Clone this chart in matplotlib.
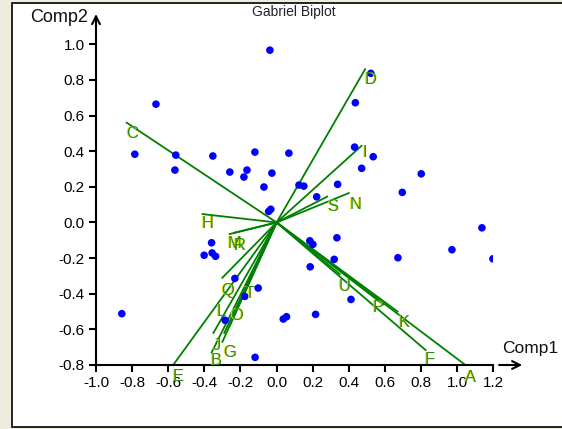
import matplotlib
matplotlib.use("Agg")
import matplotlib.pyplot as plt
from matplotlib.patches import Rectangle
import matplotlib.transforms as mtrans

plt.rcParams['font.family'] = ['Liberation Sans', 'DejaVu Sans']

# ---- data ----
point_x = [-0.037, -0.668, -0.785, -0.558, -0.563, -0.353, -0.259, -0.164, -0.181, -0.120,
           -0.026, -0.070, 0.068, -0.044, -0.032, 0.124, 0.151, 0.222, 0.338, 0.436,
           0.522, 0.432, 0.535, 0.471, 0.696, 0.801, 0.184, 0.201, 0.334, 0.319,
           0.186, 0.672, 0.971, 1.137, 1.198, 0.412, 0.216, 0.037, 0.055, -0.360,
           -0.357, -0.401, -0.338, -0.231, -0.102, -0.176, -0.285, -0.857, -0.119]
point_y = [0.967, 0.664, 0.383, 0.378, 0.294, 0.373, 0.283, 0.294, 0.255, 0.395,
           0.277, 0.199, 0.389, 0.062, 0.074, 0.210, 0.204, 0.144, 0.214, 0.672,
           0.837, 0.423, 0.369, 0.304, 0.169, 0.273, -0.103, -0.123, -0.086, -0.207,
           -0.249, -0.198, -0.153, -0.030, -0.204, -0.432, -0.516, -0.542, -0.529, -0.114,
           -0.171, -0.184, -0.190, -0.314, -0.368, -0.415, -0.549, -0.512, -0.757]

var_names = ['C', 'D', 'I', 'S', 'N', 'H', 'M', 'R', 'Q', 'T', 'L', 'O', 'J', 'G', 'B', 'E',
             'U', 'P', 'K', 'F', 'A']
var_x = [-0.83, 0.49, 0.47, 0.28, 0.40, -0.41, -0.26, -0.235, -0.30, -0.17, -0.29, -0.26,
         -0.35, -0.30, -0.36, -0.569, 0.35, 0.59, 0.67, 0.825, 1.039]
var_y = [0.56, 0.86, 0.43, 0.145, 0.165, 0.047, -0.065, -0.058, -0.31, -0.35, -0.62, -0.58,
         -0.62, -0.67, -0.73, -0.795, -0.29, -0.46, -0.50, -0.716, -0.795]
label_x = [-0.80, 0.52, 0.49, 0.31, 0.44, -0.38, -0.235, -0.205, -0.27, -0.15, -0.305, -0.22,
           -0.333, -0.26, -0.333, -0.546, 0.38, 0.56, 0.705, 0.85, 1.075]
label_y = [0.50, 0.80, 0.39, 0.09, 0.10, -0.005, -0.12, -0.13, -0.38, -0.40, -0.50, -0.52,
           -0.69, -0.73, -0.776, -0.867, -0.36, -0.475, -0.56, -0.77, -0.87]

xticks = [-1.0, -0.8, -0.6, -0.4, -0.2, 0.0, 0.2, 0.4, 0.6, 0.8, 1.0, 1.2]
yticks = [-0.8, -0.6, -0.4, -0.2, 0.0, 0.2, 0.4, 0.6, 0.8, 1.0]

# ---- figure ----
W, H = 562, 429
fig = plt.figure(figsize=(W / 100, H / 100), dpi=100)
fig.patch.set_facecolor('#eeebdf')
frame = Rectangle((11.5 / W, 1 - 427 / H), (W + 5 - 11.5) / W, (427 - 3) / H,
                  transform=fig.transFigure, facecolor='white',
                  edgecolor='black', linewidth=1.2, zorder=-10)
fig.patches.append(frame)

ax = fig.add_axes([96 / W, (H - 365) / H, 397.3 / W, 320.7 / H])
ax.set_zorder(5)
ax.set_xlim(-1.0, 1.2)
ax.set_ylim(-0.8, 1.0)
ax.patch.set_visible(False)

for s in ['top', 'right']:
    ax.spines[s].set_visible(False)
ax.spines['left'].set_bounds(-0.8, 1.0)
ax.spines['bottom'].set_bounds(-1.0, 1.2)
ax.spines['left'].set_linewidth(1.5)
ax.spines['bottom'].set_linewidth(1.5)
ax.set_xticks(xticks)
ax.set_yticks(yticks)
ax.set_xticklabels([f'{v:.1f}' for v in xticks])
ax.set_yticklabels([f'{v:.1f}' for v in yticks])
ax.tick_params(direction='out', length=5, width=1.5, labelsize=11, pad=3,
               colors='black')

# axis arrows
ax.annotate('', xy=(-1.0, 1.17), xytext=(-1.0, 0.99), xycoords='data',
            arrowprops=dict(arrowstyle='->', lw=1.5, color='black', shrinkA=0, shrinkB=0,
                            mutation_scale=14), annotation_clip=False)
ax.annotate('', xy=(1.36, -0.8), xytext=(1.232, -0.8), xycoords='data',
            arrowprops=dict(arrowstyle='->', lw=1.5, color='black', shrinkA=0, shrinkB=0,
                            mutation_scale=14), annotation_clip=False)

ax.text(-1.044, 1.15, 'Comp2', fontsize=13, ha='right', va='center', color='#101010',
        clip_on=False)
ax.text(1.405, -0.71, 'Comp1', fontsize=12.5, ha='center', va='center', color='#101010',
        clip_on=False)
fig.text(294 / W, 1 - 12 / H, 'Gabriel Biplot', fontsize=10, ha='center', va='center',
         color='#202030')

# vectors
for vx, vy in zip(var_x, var_y):
    ax.plot([0, vx], [0, vy], color='#008000', lw=1.3, zorder=2, clip_on=False)

# points
ax.scatter(point_x, point_y, s=30, color='#0000ff', edgecolors='none', zorder=3)

# labels with yellow shadow
shadow = mtrans.offset_copy(ax.transData, fig=fig, x=-1, y=0, units='dots')
for name, lx, ly in zip(var_names, label_x, label_y):
    ax.text(lx, ly, name, transform=shadow, fontsize=12, color='#e8e000',
            ha='center', va='center', zorder=4, clip_on=False)
    ax.text(lx, ly, name, fontsize=12, color='#2e8b22', ha='center', va='center',
            zorder=5, clip_on=False)

fig.savefig('out.png', dpi=100, facecolor=fig.get_facecolor())
